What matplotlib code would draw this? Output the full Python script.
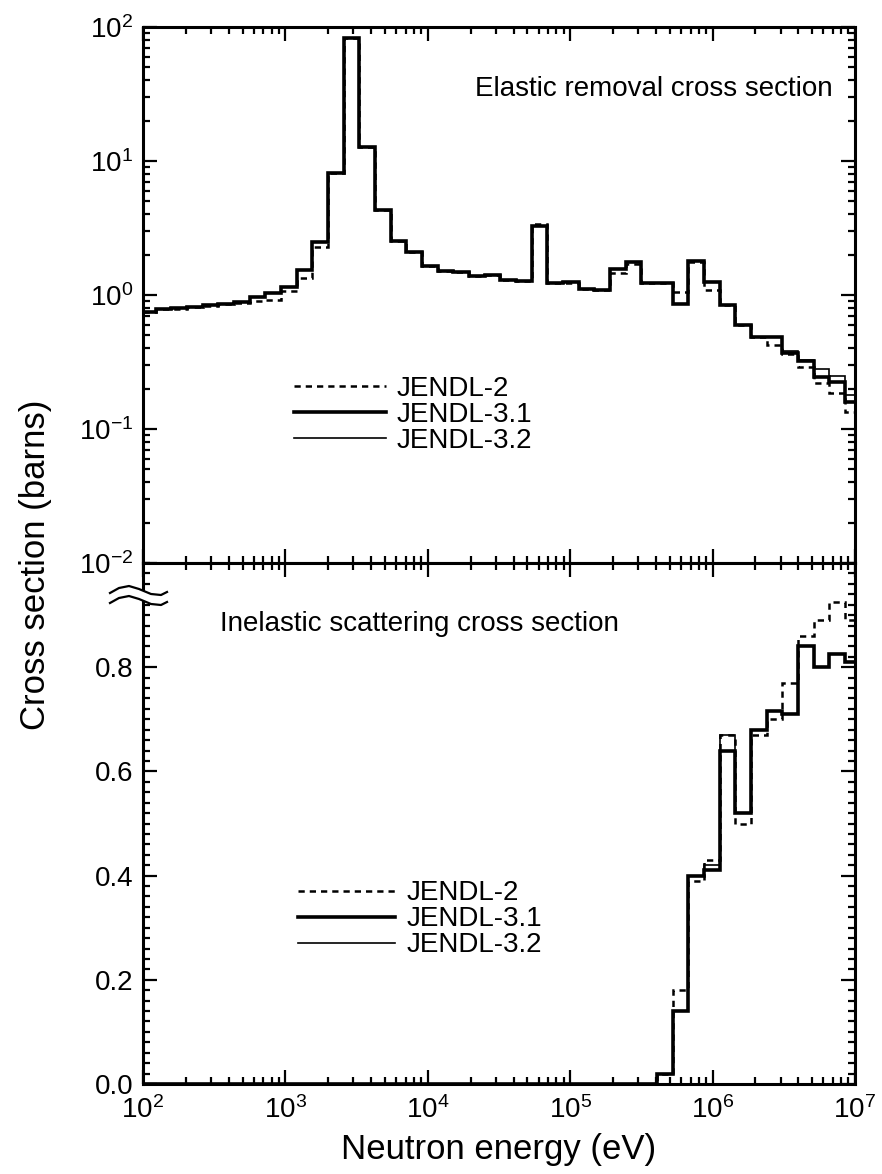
import numpy as np
import matplotlib.pyplot as plt
from matplotlib.ticker import LogLocator, MultipleLocator, NullFormatter, FormatStrFormatter
from matplotlib.patches import Polygon

plt.rcParams['font.family'] = ['Liberation Sans', 'DejaVu Sans']
plt.rcParams['mathtext.fontset'] = 'custom'
plt.rcParams['mathtext.rm'] = 'Liberation Sans'
plt.rcParams['mathtext.it'] = 'Liberation Sans:italic'

# group boundaries, log10(E / eV)
e_log = [2.00, 2.09, 2.20, 2.31, 2.42, 2.53, 2.64, 2.75, 2.86, 2.97,
         3.08, 3.19, 3.30, 3.41, 3.52, 3.63, 3.74, 3.85, 3.96, 4.07,
         4.18, 4.29, 4.40, 4.51, 4.62, 4.73, 4.84, 4.95, 5.06, 5.17,
         5.28, 5.39, 5.50, 5.61, 5.72, 5.83, 5.94, 6.05, 6.16, 6.27,
         6.38, 6.49, 6.60, 6.71, 6.82, 6.93, 7.00]

# elastic removal (barns)
el_j2 = [0.75, 0.78, 0.79, 0.81, 0.83, 0.85, 0.87, 0.90, 0.92, 1.07,
         1.35, 2.30, 8.20, 83.0, 12.8, 4.30, 2.55, 2.10, 1.66, 1.50,
         1.49, 1.39, 1.40, 1.30, 1.28, 3.40, 1.22, 1.22, 1.10, 1.09,
         1.45, 1.70, 1.22, 1.22, 1.05, 1.75, 1.09, 0.84, 0.60, 0.49,
         0.42, 0.36, 0.29, 0.22, 0.185, 0.135]
el_j31 = [0.75, 0.79, 0.80, 0.82, 0.84, 0.86, 0.89, 0.96, 1.04, 1.14,
          1.54, 2.50, 8.20, 83.0, 12.8, 4.30, 2.55, 2.10, 1.66, 1.50,
          1.49, 1.39, 1.42, 1.30, 1.28, 3.30, 1.22, 1.24, 1.10, 1.09,
          1.55, 1.75, 1.22, 1.22, 0.86, 1.80, 1.24, 0.84, 0.60, 0.49,
          0.49, 0.37, 0.32, 0.245, 0.225, 0.16]
el_j32 = [0.75, 0.79, 0.80, 0.82, 0.84, 0.86, 0.89, 0.96, 1.04, 1.14,
          1.54, 2.50, 8.20, 83.0, 12.8, 4.30, 2.55, 2.10, 1.66, 1.50,
          1.49, 1.39, 1.42, 1.30, 1.28, 3.30, 1.22, 1.24, 1.10, 1.09,
          1.55, 1.75, 1.22, 1.22, 0.86, 1.80, 1.24, 0.84, 0.60, 0.49,
          0.49, 0.38, 0.33, 0.28, 0.25, 0.18]

# inelastic scattering (barns)
in_j2 = [0.0] * 33 + [0.02, 0.18, 0.39, 0.43, 0.67, 0.50, 0.67, 0.70, 0.77,
                      0.86, 0.89, 0.925, 0.89]
in_j31 = [0.0] * 33 + [0.02, 0.14, 0.40, 0.41, 0.64, 0.52, 0.68, 0.715, 0.71,
                       0.84, 0.80, 0.825, 0.81]
in_j32 = [0.0] * 33 + [0.02, 0.14, 0.40, 0.42, 0.67, 0.52, 0.68, 0.715, 0.71,
                       0.84, 0.80, 0.825, 0.81]

labels = ['JENDL-2', 'JENDL-3.1', 'JENDL-3.2']

edges = 10 ** np.array(e_log)

W, H = 882, 1174
fig = plt.figure(figsize=(W / 100, H / 100), dpi=100)
x0, x1 = 143 / W, 855 / W
y_top, y_mid, y_bot = 1 - 27 / H, 1 - 563 / H, 1 - 1084 / H
ax1 = fig.add_axes([x0, y_mid, x1 - x0, y_top - y_mid])
ax2 = fig.add_axes([x0, y_bot, x1 - x0, y_mid - y_bot], sharex=ax1)


def draw(ax, j2, j31, j32):
    h2 = ax.stairs(j2, edges, baseline=None, color='black', lw=1.8,
                   linestyle=(0, (2.5, 2.0)))
    h32 = ax.stairs(j32, edges, baseline=None, color='black', lw=1.2)
    h31 = ax.stairs(j31, edges, baseline=None, color='black', lw=2.6)
    return [h2, h31, h32]


for ax in (ax1, ax2):
    for s in ax.spines.values():
        s.set_linewidth(2.2)
    ax.tick_params(which='both', direction='in', top=True, right=True,
                   labelsize=20, width=1.6)
    ax.tick_params(which='major', length=10)
    ax.tick_params(which='minor', length=5)
    ax.tick_params(axis='y', pad=7)

# elastic removal
hs = draw(ax1, el_j2, el_j31, el_j32)
ax1.set_xscale('log')
ax1.set_yscale('log')
ax1.set_xlim(1e2, 1e7)
ax1.set_ylim(1e-2, 1e2)
ax1.yaxis.set_major_locator(LogLocator(base=10, numticks=10))
ax1.yaxis.set_minor_locator(LogLocator(base=10, subs=np.arange(2, 10), numticks=10))
ax1.yaxis.set_minor_formatter(NullFormatter())
ax1.tick_params(axis='x', labelbottom=False)
ax1.text(0.968, 0.885, 'Elastic removal cross section', transform=ax1.transAxes,
         ha='right', va='center', fontsize=20)
leg1 = ax1.legend(hs, labels, frameon=False, fontsize=20, loc='center left',
                  bbox_to_anchor=(0.212, 0.276), handlelength=3.3,
                  labelspacing=0.0, handletextpad=0.4, borderaxespad=0,
                  borderpad=0)

# inelastic scattering
hs = draw(ax2, in_j2, in_j31, in_j32)
ax2.set_ylim(0, 1.0)
ax2.yaxis.set_major_locator(MultipleLocator(0.2))
ax2.yaxis.set_minor_locator(MultipleLocator(0.02))
ax2.yaxis.set_major_formatter(FormatStrFormatter('%.1f'))
ax2.set_yticks([0.0, 0.2, 0.4, 0.6, 0.8])
ax2.xaxis.set_major_locator(LogLocator(base=10, numticks=10))
ax2.xaxis.set_minor_locator(LogLocator(base=10, subs=np.arange(2, 10), numticks=10))
ax2.xaxis.set_minor_formatter(NullFormatter())
ax2.tick_params(axis='x', pad=9)
ax2.text(0.108, 0.882, 'Inelastic scattering cross section', transform=ax2.transAxes,
         ha='left', va='center', fontsize=20)
leg2 = ax2.legend(hs, labels, frameon=False, fontsize=20, loc='center left',
                  bbox_to_anchor=(0.218, 0.316), handlelength=3.5,
                  labelspacing=0.0, handletextpad=0.4, borderaxespad=0,
                  borderpad=0)

ax2.set_xlabel('Neutron energy (eV)', fontsize=25, labelpad=6)
fig.text(36 / W, 1 - 565 / H, 'Cross section (barns)', rotation=90,
         ha='center', va='center', fontsize=25)

# axis break mark on the left spine
bx, by = 143, 596
wave = [(-33, 2), (-24, -3), (-14, -5), (-4, -2), (8, 3), (18, 4), (24, 1)]
top_w = [((bx + dx) / W, 1 - (by - 5 + dy) / H) for dx, dy in wave]
bot_w = [((bx + dx) / W, 1 - (by + 5 + dy) / H) for dx, dy in wave]
fig.patches.append(Polygon(top_w + bot_w[::-1], closed=True, transform=fig.transFigure,
                           facecolor='white', edgecolor='none', zorder=5))
fig.lines.append(plt.Line2D([p[0] for p in top_w], [p[1] for p in top_w],
                            transform=fig.transFigure, color='black', lw=1.6, zorder=6))
fig.lines.append(plt.Line2D([p[0] for p in bot_w], [p[1] for p in bot_w],
                            transform=fig.transFigure, color='black', lw=1.6, zorder=6))

fig.savefig('out.png', dpi=100)
